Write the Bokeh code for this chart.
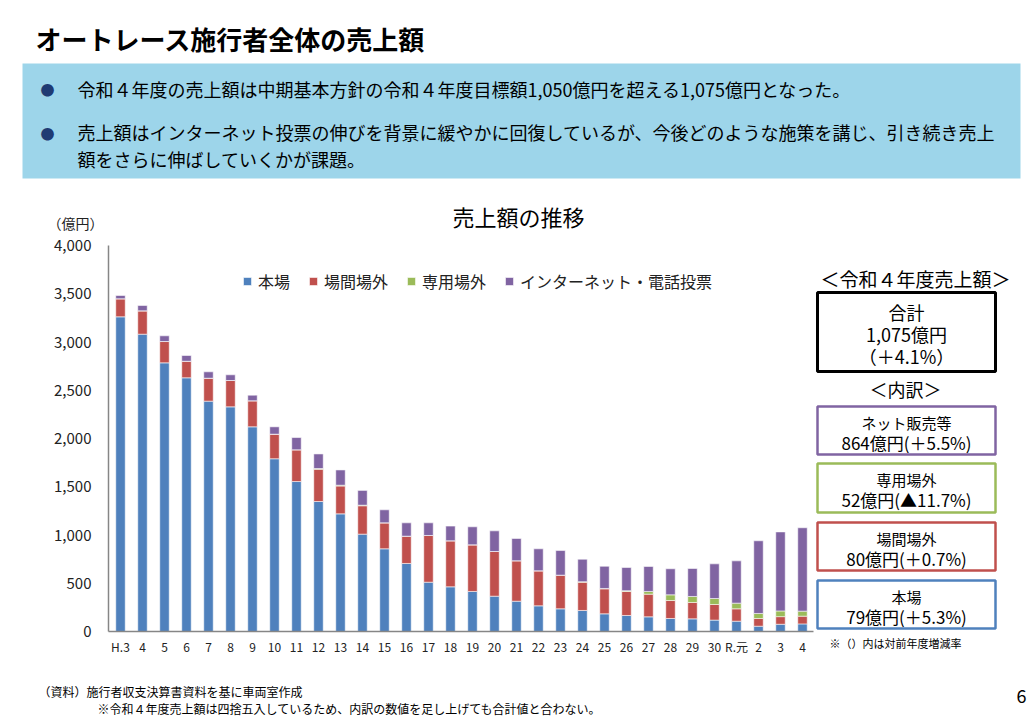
from bokeh.plotting import figure
from bokeh.layouts import column, row
from bokeh.models import (ColumnDataSource, Range1d, FixedTicker, NumeralTickFormatter, Label, Title)
from bokeh.embed import file_html
from bokeh.resources import INLINE

# ---------------- data (億円) ----------------
years = ["H.3", "4", "5", "6", "7", "8", "9", "10", "11", "12", "13", "14", "15", "16",
         "17", "18", "19", "20", "21", "22", "23", "24", "25", "26", "27", "28", "29",
         "30", "R.元", "2", "3", "4"]
honjo = [3261, 3081, 2784, 2629, 2387, 2328, 2121, 1790, 1554, 1347, 1219, 1009, 857, 705,
         511, 463, 415, 366, 314, 266, 235, 218, 183, 166, 152, 135, 131, 118, 107, 55, 75, 79]
jokan = [187, 242, 221, 172, 238, 273, 270, 255, 329, 334, 289, 294, 269, 283,
         484, 477, 483, 463, 419, 363, 349, 293, 259, 249, 235, 186, 170, 162, 128, 80, 79, 80]
senyo = [0, 0, 0, 0, 0, 0, 0, 0, 0, 8, 8, 6, 0, 0,
         0, 0, 0, 0, 0, 0, 0, 5, 4, 8, 28, 59, 62, 62, 59, 52, 59, 52]
net = [34, 55, 59, 59, 66, 59, 58, 76, 127, 151, 158, 153, 135, 138,
       131, 152, 187, 214, 231, 228, 255, 233, 230, 240, 259, 270, 290, 359, 438, 753, 819, 864]

series = ["本場", "場間場外", "専用場外", "インターネット・電話投票"]
colors = ["#4F81BD", "#C0504D", "#9BBB59", "#8064A2"]
y_ticks = [0, 500, 1000, 1500, 2000, 2500, 3000, 3500, 4000]

FONT = "Noto Sans CJK JP"
W, H = 1034, 716
Y_HEAD, Y_FOOT, X_SPLIT = 233, 665, 815
F_TOP, F_BOT, F_LEFT, F_RIGHT = 245, 631, 108, 813   # chart frame on the page


def canvas(x0, x1, y0, y1):
    """A figure whose frame is the whole canvas, in page pixel coordinates."""
    f = figure(width=x1 - x0, height=y1 - y0, x_range=Range1d(x0, x1), y_range=Range1d(y1, y0),
               min_border=0, x_axis_type=None, y_axis_type=None, output_backend="svg",
               toolbar_location=None, tools="")
    f.outline_line_color = None
    f.background_fill_color = "white"
    f.border_fill_color = "white"
    return f


def lab(f, x, y, text, size, align="left", color="#000000", style="normal"):
    f.add_layout(Label(x=x, y=y, text=text, text_font=FONT, text_font_size=f"{size}px",
                       text_align=align, text_baseline="middle", text_color=color,
                       text_font_style=style))


def box(f, l, t, r, b, fill=None, line=None, lw=2.5):
    f.quad(left=[l], right=[r], top=[t], bottom=[b],
           fill_color=fill if fill else None, fill_alpha=1.0 if fill else 0,
           line_color=line if line else None, line_width=lw)


# ---------------- header ----------------
A = canvas(0, W, 0, Y_HEAD)
lab(A, 35, 38, "オートレース施行者全体の売上額", 26, style="bold")
box(A, 22, 63, 1020, 178, fill="#9DD5EA")
lab(A, 47, 88, "●", 14, align="center", color="#1F3B73")
lab(A, 47, 132, "●", 14, align="center", color="#1F3B73")
lab(A, 77, 88, "令和４年度の売上額は中期基本方針の令和４年度目標額1,050億円を超える1,075億円となった。", 18)
lab(A, 77, 131, "売上額はインターネット投票の伸びを背景に緩やかに回復しているが、今後どのような施策を講じ、引き続き売上", 18)
lab(A, 77, 158, "額をさらに伸ばしていくかが課題。", 18)
lab(A, 518, 215, "売上額の推移", 22, align="center")
lab(A, 47, 222, "（億円）", 14, color="#222222")

# ---------------- chart ----------------
p = figure(frame_width=F_RIGHT - F_LEFT, frame_height=F_BOT - F_TOP,
           min_border_left=F_LEFT, min_border_right=X_SPLIT - F_RIGHT,
           min_border_top=F_TOP - Y_HEAD, min_border_bottom=Y_FOOT - F_BOT,
           x_range=Range1d(-0.545, 31.5), y_range=Range1d(0, 4000),
           output_backend="svg", toolbar_location=None, tools="")
p.background_fill_color = "white"
p.border_fill_color = "white"
p.outline_line_color = None
p.xgrid.visible = False
p.ygrid.visible = False

src = ColumnDataSource(dict(x=list(range(len(years))), s0=honjo, s1=jokan, s2=senyo, s3=net))
p.vbar_stack(["s0", "s1", "s2", "s3"], x="x", width=0.43, source=src, color=colors,
             line_color="white", line_alpha=0.55, line_width=1, legend_label=series)

ya = p.yaxis[0]
ya.ticker = FixedTicker(ticks=y_ticks)
ya.formatter = NumeralTickFormatter(format="0,0")
ya.major_tick_line_color = None
ya.minor_tick_line_color = None
ya.major_tick_out = 0
ya.major_tick_in = 0
ya.axis_line_color = "#868686"
ya.axis_line_width = 1.5
ya.major_label_text_font = FONT
ya.major_label_text_font_size = "15px"
ya.major_label_text_color = "#222222"
ya.major_label_standoff = 17

xa = p.xaxis[0]
xa.ticker = FixedTicker(ticks=list(range(len(years))))
xa.major_label_overrides = {i: y for i, y in enumerate(years)}
xa.major_tick_line_color = None
xa.minor_tick_line_color = None
xa.major_tick_out = 0
xa.major_tick_in = 0
xa.axis_line_color = "#868686"
xa.axis_line_width = 1.5
xa.major_label_text_font = FONT
xa.major_label_text_font_size = "12px"
xa.major_label_text_color = "#222222"
xa.major_label_standoff = 6

lg = p.legend[0]
lg.location = (134, 338)
lg.orientation = "horizontal"
lg.border_line_color = None
lg.background_fill_alpha = 0
lg.label_text_font = FONT
lg.label_text_font_size = "16px"
lg.label_text_color = "#222222"
lg.glyph_width = 10
lg.glyph_height = 10
lg.label_standoff = 6
lg.spacing = 18
lg.padding = 0
lg.margin = 0

# ---------------- right panel (frame aligned with the chart frame) ----------------
C = figure(frame_width=W - X_SPLIT, frame_height=F_BOT - F_TOP,
           min_border_left=0, min_border_right=0,
           min_border_top=F_TOP - Y_HEAD, min_border_bottom=Y_FOOT - F_BOT,
           x_range=Range1d(X_SPLIT, W), y_range=Range1d(F_BOT, F_TOP),
           x_axis_type=None, y_axis_type=None, output_backend="svg",
           toolbar_location=None, tools="")
C.outline_line_color = None
C.background_fill_color = "white"
C.border_fill_color = "white"
lab(C, 915, 278, "＜令和４年度売上額＞", 19, align="center")
box(C, 817, 292, 995, 371, line="#000000", lw=3)
lab(C, 906, 311, "合計", 18, align="center")
lab(C, 906, 333, "1,075億円", 18, align="center")
lab(C, 906, 355, "（＋4.1%）", 18, align="center")
lab(C, 905, 388, "＜内訳＞", 18, align="center")

panels = [
    (406, 454, "#8064A2", "ネット販売等", "864億円(＋5.5%)"),
    (463, 512, "#9BBB59", "専用場外", "52億円(▲11.7%)"),
    (522, 570, "#C0504D", "場間場外", "80億円(＋0.7%)"),
    (580, 628, "#4F81BD", "本場", "79億円(＋5.3%)"),
]
for t, b, c, l1, l2 in panels:
    box(C, 817, t, 995, b, line=c, lw=2.5)
    lab(C, 906, t + 16, l1, 15, align="center")
    lab(C, 906, t + 36, l2, 17, align="center")
C.add_layout(Title(text="※（）内は対前年度増減率", align="left", offset=14, standoff=2,
                   text_font=FONT, text_font_size="11px", text_font_style="normal",
                   text_color="#000000"), "below")

# ---------------- footer ----------------
D = canvas(0, W, Y_FOOT, H)
lab(D, 38, 691, "（資料）施行者収支決算書資料を基に車両室作成", 12)
lab(D, 97, 708, "※令和４年度売上額は四捨五入しているため、内訳の数値を足し上げても合計値と合わない。", 12)
lab(D, 1021, 695, "6", 18, align="center")

layout = column(A, row(p, C, spacing=0), D, spacing=0)
open("out.html", "w").write(file_html(layout, INLINE))
